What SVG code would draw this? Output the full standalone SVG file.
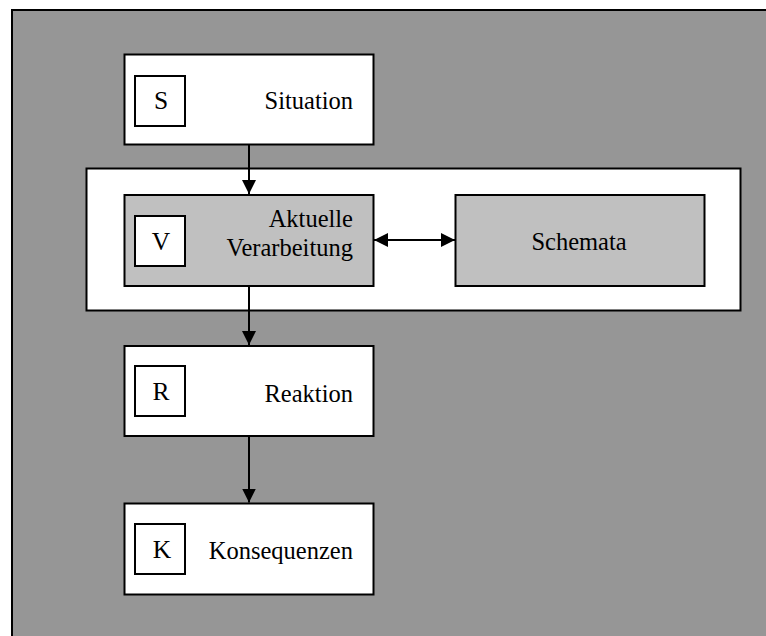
<svg xmlns="http://www.w3.org/2000/svg" width="766" height="636" viewBox="0 0 766 636">
<style>
.box{stroke:#000;stroke-width:2}
.w{fill:#fff}
.g{fill:#c0c0c0}
.t{font-family:"Liberation Serif","Times New Roman",serif;font-size:24.5px;fill:#000}
.l{font-family:"Liberation Serif","Times New Roman",serif;font-size:25.5px;fill:#000;text-anchor:middle}
.c{stroke:#000;stroke-width:2;fill:none}
</style>
<defs>
<marker id="ah" viewBox="0 0 14 14" refX="14" refY="7" markerWidth="14" markerHeight="14" markerUnits="userSpaceOnUse" orient="auto-start-reverse">
<path d="M0,0 L14,7 L0,14 Z" fill="#000"/>
</marker>
</defs>
<rect x="0" y="0" width="766" height="636" fill="#fff"/>
<g id="background">
<rect x="12" y="10" width="800" height="700" fill="#969696" stroke="#000" stroke-width="2"/>
</g>
<g id="container">
<rect class="box w" x="86.5" y="168.5" width="654" height="142"/>
</g>
<g id="node-S">
<rect class="box w" x="124.5" y="54.5" width="249" height="90"/>
<rect class="box w" x="135" y="76" width="50" height="50"/>
<text class="l" x="161" y="109">S</text>
<text class="t" x="353" y="108.5" text-anchor="end">Situation</text>
</g>
<g id="node-V">
<rect class="box g" x="124.5" y="195" width="249" height="91"/>
<rect class="box w" x="135" y="216" width="50" height="50"/>
<text class="l" x="161" y="249.5">V</text>
<text class="t" x="353" y="227" text-anchor="end">Aktuelle</text>
<text class="t" x="353" y="256" text-anchor="end">Verarbeitung</text>
</g>
<g id="node-Schemata">
<rect class="box g" x="455.5" y="195" width="249" height="91"/>
<text class="t" x="579" y="250" text-anchor="middle">Schemata</text>
</g>
<g id="node-R">
<rect class="box w" x="124.5" y="346" width="249" height="90"/>
<rect class="box w" x="135" y="366" width="50" height="50"/>
<text class="l" x="161" y="399.5">R</text>
<text class="t" x="353" y="401.5" text-anchor="end">Reaktion</text>
</g>
<g id="node-K">
<rect class="box w" x="124.5" y="503.5" width="249" height="91"/>
<rect class="box w" x="135" y="524" width="50" height="50"/>
<text class="l" x="162" y="557.5">K</text>
<text class="t" x="353" y="559" text-anchor="end">Konsequenzen</text>
</g>
<g id="connectors">
<line class="c" x1="249" y1="145" x2="249" y2="194" marker-end="url(#ah)"/>
<line class="c" x1="249" y1="286" x2="249" y2="345" marker-end="url(#ah)"/>
<line class="c" x1="249" y1="436" x2="249" y2="502.5" marker-end="url(#ah)"/>
<line class="c" x1="374" y1="240" x2="455" y2="240" marker-start="url(#ah)" marker-end="url(#ah)"/>
</g>
</svg>
